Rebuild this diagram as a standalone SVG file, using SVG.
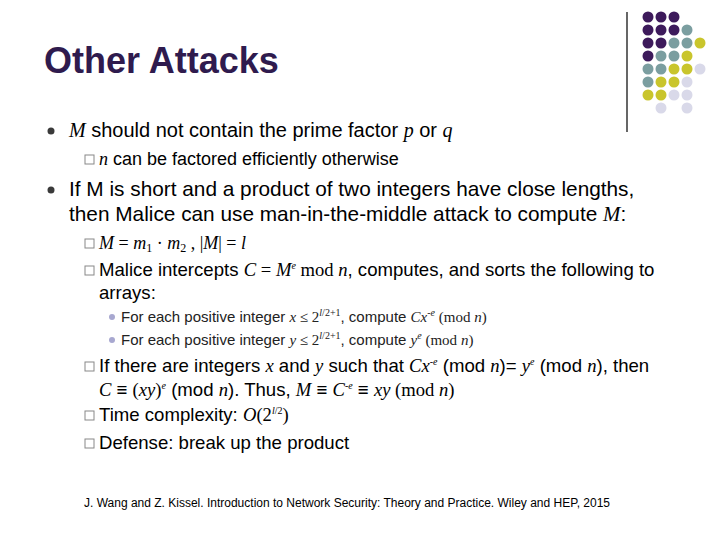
<svg xmlns="http://www.w3.org/2000/svg" width="720" height="540" viewBox="0 0 720 540">
<style>
.s{font-family:"Liberation Sans",Arial,sans-serif;fill:#000}
.m{font-family:"Liberation Serif","Times New Roman",serif;font-style:italic}
.r{font-family:"Liberation Serif","Times New Roman",serif}
.p{fill:#3d1a5b}.g{fill:#7b9ea0}.y{fill:#c9c52c}.l{fill:#d9d9e9}
.box{fill:none;stroke:#888;stroke-width:1}
</style>
<rect width="720" height="540" fill="#fff"/>
<g id="deco">
<line x1="627" y1="12" x2="627" y2="132" stroke="#000" stroke-width="1.2"/>
<circle cx="648" cy="17" r="5.5" class="p"/><circle cx="661" cy="17" r="5.5" class="p"/><circle cx="674" cy="17" r="5.5" class="p"/>
<circle cx="648" cy="30" r="5.5" class="p"/><circle cx="661" cy="30" r="5.5" class="p"/><circle cx="674" cy="30" r="5.5" class="p"/><circle cx="687" cy="30" r="5.5" class="g"/>
<circle cx="648" cy="43" r="5.5" class="p"/><circle cx="661" cy="43" r="5.5" class="p"/><circle cx="674" cy="43" r="5.5" class="g"/><circle cx="687" cy="43" r="5.5" class="g"/><circle cx="700" cy="43" r="5.5" class="y"/>
<circle cx="648" cy="56" r="5.5" class="p"/><circle cx="661" cy="56" r="5.5" class="g"/><circle cx="674" cy="56" r="5.5" class="g"/><circle cx="687" cy="56" r="5.5" class="y"/>
<circle cx="648" cy="69" r="5.5" class="g"/><circle cx="661" cy="69" r="5.5" class="g"/><circle cx="674" cy="69" r="5.5" class="y"/><circle cx="687" cy="69" r="5.5" class="y"/><circle cx="700" cy="69" r="5.5" class="l"/>
<circle cx="648" cy="82" r="5.5" class="g"/><circle cx="661" cy="82" r="5.5" class="y"/><circle cx="674" cy="82" r="5.5" class="y"/><circle cx="687" cy="82" r="5.5" class="l"/>
<circle cx="648" cy="95" r="5.5" class="y"/><circle cx="661" cy="95" r="5.5" class="y"/><circle cx="674" cy="95" r="5.5" class="l"/><circle cx="687" cy="95" r="5.5" class="l"/>
<circle cx="661" cy="108" r="5.5" class="l"/><circle cx="687" cy="108" r="5.5" class="l"/>
</g>
<text x="44" y="73" font-family="Liberation Sans,Arial,sans-serif" font-size="36" font-weight="bold" fill="#2f1b4e">Other Attacks</text>
<g id="bullets">
<circle cx="51" cy="131" r="3.5" fill="#3a3a3a"/>
<circle cx="51" cy="190" r="3.5" fill="#3a3a3a"/>
<rect x="85" y="155" width="9" height="9" class="box"/>
<rect x="85" y="239" width="9" height="9" class="box"/>
<rect x="85" y="266" width="9" height="9" class="box"/>
<rect x="85" y="362" width="9" height="9" class="box"/>
<rect x="85" y="411" width="9" height="9" class="box"/>
<rect x="85" y="439" width="9" height="9" class="box"/>
<circle cx="112" cy="317" r="3" fill="#a8a8d0"/>
<circle cx="112" cy="340" r="3" fill="#a8a8d0"/>
</g>
<g id="text" class="s">
<text x="69" y="137" font-size="20"><tspan class="m">M</tspan> should not contain the prime factor <tspan class="m">p</tspan> or <tspan class="m">q</tspan></text>
<text x="99" y="165" font-size="18"><tspan class="m">n</tspan> can be factored efficiently otherwise</text>
<text x="69" y="196" font-size="20.8">If M is short and a product of two integers have close lengths,</text>
<text x="69" y="221" font-size="20.8">then Malice can use man-in-the-middle attack to compute <tspan class="m">M</tspan>:</text>
<text x="99" y="249" font-size="18"><tspan class="m">M</tspan><tspan class="r"> = </tspan><tspan class="m">m</tspan><tspan class="r" font-size="12" dy="3">1</tspan><tspan class="r" dy="-3"> · </tspan><tspan class="m">m</tspan><tspan class="r" font-size="12" dy="3">2</tspan><tspan class="r" dy="-3"> ,  |</tspan><tspan class="m">M</tspan><tspan class="r">| = </tspan><tspan class="m">l</tspan></text>
<text x="99" y="276" font-size="18.6">Malice intercepts <tspan class="m">C</tspan><tspan class="r"> = </tspan><tspan class="m">M</tspan><tspan class="m" font-size="10" dy="-7">e</tspan><tspan class="r" dy="7"> mod </tspan><tspan class="m">n</tspan>, computes, and sorts the following to</text>
<text x="99" y="299" font-size="18.6">arrays:</text>
<text x="121" y="322" font-size="15" fill="#222">For each positive integer <tspan class="m">x</tspan><tspan class="r"> ≤ 2</tspan><tspan class="r" font-size="10" dy="-6"><tspan class="m">l</tspan>/2+1</tspan><tspan dy="6">, compute </tspan><tspan class="m">Cx</tspan><tspan class="m" font-size="10" dy="-6">-e</tspan><tspan class="r" dy="6"> (mod </tspan><tspan class="m">n</tspan><tspan class="r">)</tspan></text>
<text x="121" y="345" font-size="15" fill="#222">For each positive integer <tspan class="m">y</tspan><tspan class="r"> ≤ 2</tspan><tspan class="r" font-size="10" dy="-6"><tspan class="m">l</tspan>/2+1</tspan><tspan dy="6">, compute </tspan><tspan class="m">y</tspan><tspan class="m" font-size="10" dy="-6">e</tspan><tspan class="r" dy="6"> (mod </tspan><tspan class="m">n</tspan><tspan class="r">)</tspan></text>
<text x="99" y="372" font-size="18.6">If there are integers <tspan class="m">x</tspan> and <tspan class="m">y</tspan> such that <tspan class="m">Cx</tspan><tspan class="m" font-size="10" dy="-7">-e</tspan><tspan dy="7"> (mod </tspan><tspan class="m">n</tspan>)= <tspan class="m">y</tspan><tspan class="m" font-size="10" dy="-7">e</tspan><tspan dy="7"> (mod </tspan><tspan class="m">n</tspan>), then</text>
<text x="99" y="396" font-size="18.6"><tspan class="m">C</tspan> ≡ <tspan class="r">(</tspan><tspan class="m">xy</tspan><tspan class="r">)</tspan><tspan class="m" font-size="10" dy="-7">e</tspan><tspan dy="7"> (mod </tspan><tspan class="m">n</tspan>). Thus, <tspan class="m">M</tspan> ≡ <tspan class="m">C</tspan><tspan class="m" font-size="10" dy="-7">-e</tspan><tspan dy="7"> ≡ </tspan><tspan class="m">xy</tspan><tspan class="r"> (mod </tspan><tspan class="m">n</tspan><tspan class="r">)</tspan></text>
<text x="99" y="421" font-size="18.6">Time complexity: <tspan class="m">O</tspan><tspan class="r">(2</tspan><tspan class="r" font-size="10" dy="-7"><tspan class="m">l</tspan>/2</tspan><tspan class="r" dy="7">)</tspan></text>
<text x="99" y="449" font-size="18.6">Defense: break up the product</text>
<text x="84" y="507" font-size="12">J. Wang and Z. Kissel. Introduction to Network Security: Theory and Practice. Wiley and HEP, 2015</text>
</g>
</svg>
